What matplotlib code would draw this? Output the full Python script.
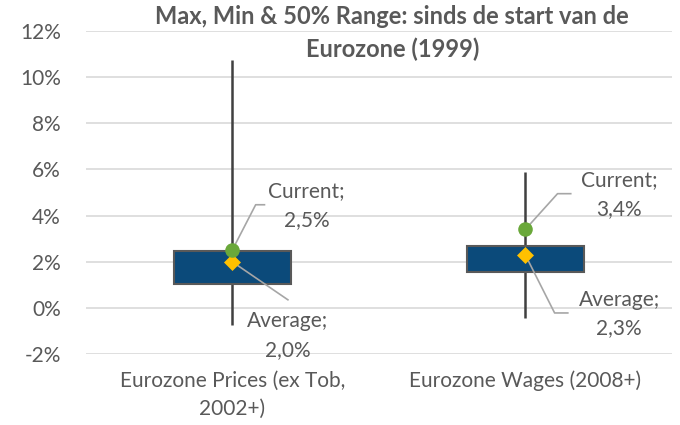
import matplotlib
matplotlib.use("Agg")
import matplotlib.pyplot as plt

# ---- data ----
categories = ["Eurozone Prices (ex Tob,\n2002+)", "Eurozone Wages (2008+)"]
max_vals = [10.75, 5.9]
min_vals = [-0.75, -0.45]
q1_vals = [1.05, 1.55]
q3_vals = [2.45, 2.7]
current_vals = [2.5, 3.4]
average_vals = [2.0, 2.3]
current_labels = ["Current;\n2,5%", "Current;\n3,4%"]
average_labels = ["Average;\n2,0%", "Average;\n2,3%"]
yticks = [-2, 0, 2, 4, 6, 8, 10, 12]
ytick_labels = ["-2%", "0%", "2%", "4%", "6%", "8%", "10%", "12%"]
title = "Max, Min & 50% Range: sinds de start van de\nEurozone (1999)"

plt.rcParams['font.family'] = ['Lato', 'DejaVu Sans']
TXT = "#595959"
FS = 15

fig = plt.figure(figsize=(6.8, 4.25), dpi=100)
ax = fig.add_axes([0.126, 0.167, 0.862, 0.76])

x = list(range(len(categories)))
ax.set_xlim(-0.5, len(categories) - 0.5)
ax.set_ylim(-2, 12)

for t in yticks:
    ax.axhline(t, color="#D9D9D9", lw=1.2, zorder=0)

ax.vlines(x, min_vals, max_vals, color="#404040", lw=1.8, zorder=2)
ax.bar(x, [h - l for h, l in zip(q3_vals, q1_vals)], bottom=q1_vals, width=0.4,
       color="#0B4A7A", edgecolor="#595959", linewidth=1.5, zorder=3)
ax.scatter(x, current_vals, s=110, color="#6AA83A", zorder=5, linewidths=0)
ax.scatter(x, average_vals, s=75, marker="D", color="#FFC000", zorder=4, linewidths=0)

# label offsets (category units, percent units) for leader elbows and text
cur_elbow = [(0.08, 4.47), (0.11, 4.95)]
cur_end = [(0.11, 4.47), (0.155, 4.95)]
cur_text = [(0.253, 4.42), (0.32, 4.9)]
avg_elbow = [(0.19, 0.35), (0.10, -0.22)]
avg_end = [(0.19, 0.35), (0.145, -0.22)]
avg_text = [(0.19, -1.2), (0.32, -0.27)]

for i in x:
    (ex, ey), (fx, fy), (tx, ty) = cur_elbow[i], cur_end[i], cur_text[i]
    ax.plot([i, i + ex, i + fx], [current_vals[i], ey, fy], color="#A6A6A6", lw=1.2, zorder=4.5)
    ax.text(i + tx, ty, current_labels[i], ha="center", va="center", fontsize=FS,
            color=TXT, linespacing=1.55, zorder=6)
    (ex, ey), (fx, fy), (tx, ty) = avg_elbow[i], avg_end[i], avg_text[i]
    ax.plot([i, i + ex, i + fx], [average_vals[i], ey, fy], color="#A6A6A6", lw=1.2, zorder=3.5)
    ax.text(i + tx, ty, average_labels[i], ha="center", va="center", fontsize=FS,
            color=TXT, linespacing=1.55, zorder=6)

ax.set_yticks(yticks)
ax.set_yticklabels(ytick_labels, fontsize=FS, color=TXT)
ax.set_xticks(x)
ax.set_xticklabels(categories, fontsize=FS, color=TXT, va="top", linespacing=1.5)
ax.tick_params(axis="both", length=0)
ax.tick_params(axis="y", pad=18)
ax.tick_params(axis="x", pad=12)
for s in ax.spines.values():
    s.set_visible(False)

fig.text(0.577, 0.922, title, ha="center", va="center", fontsize=17, fontweight="bold",
         color=TXT, linespacing=1.45)

fig.savefig("out.png", dpi=100)
